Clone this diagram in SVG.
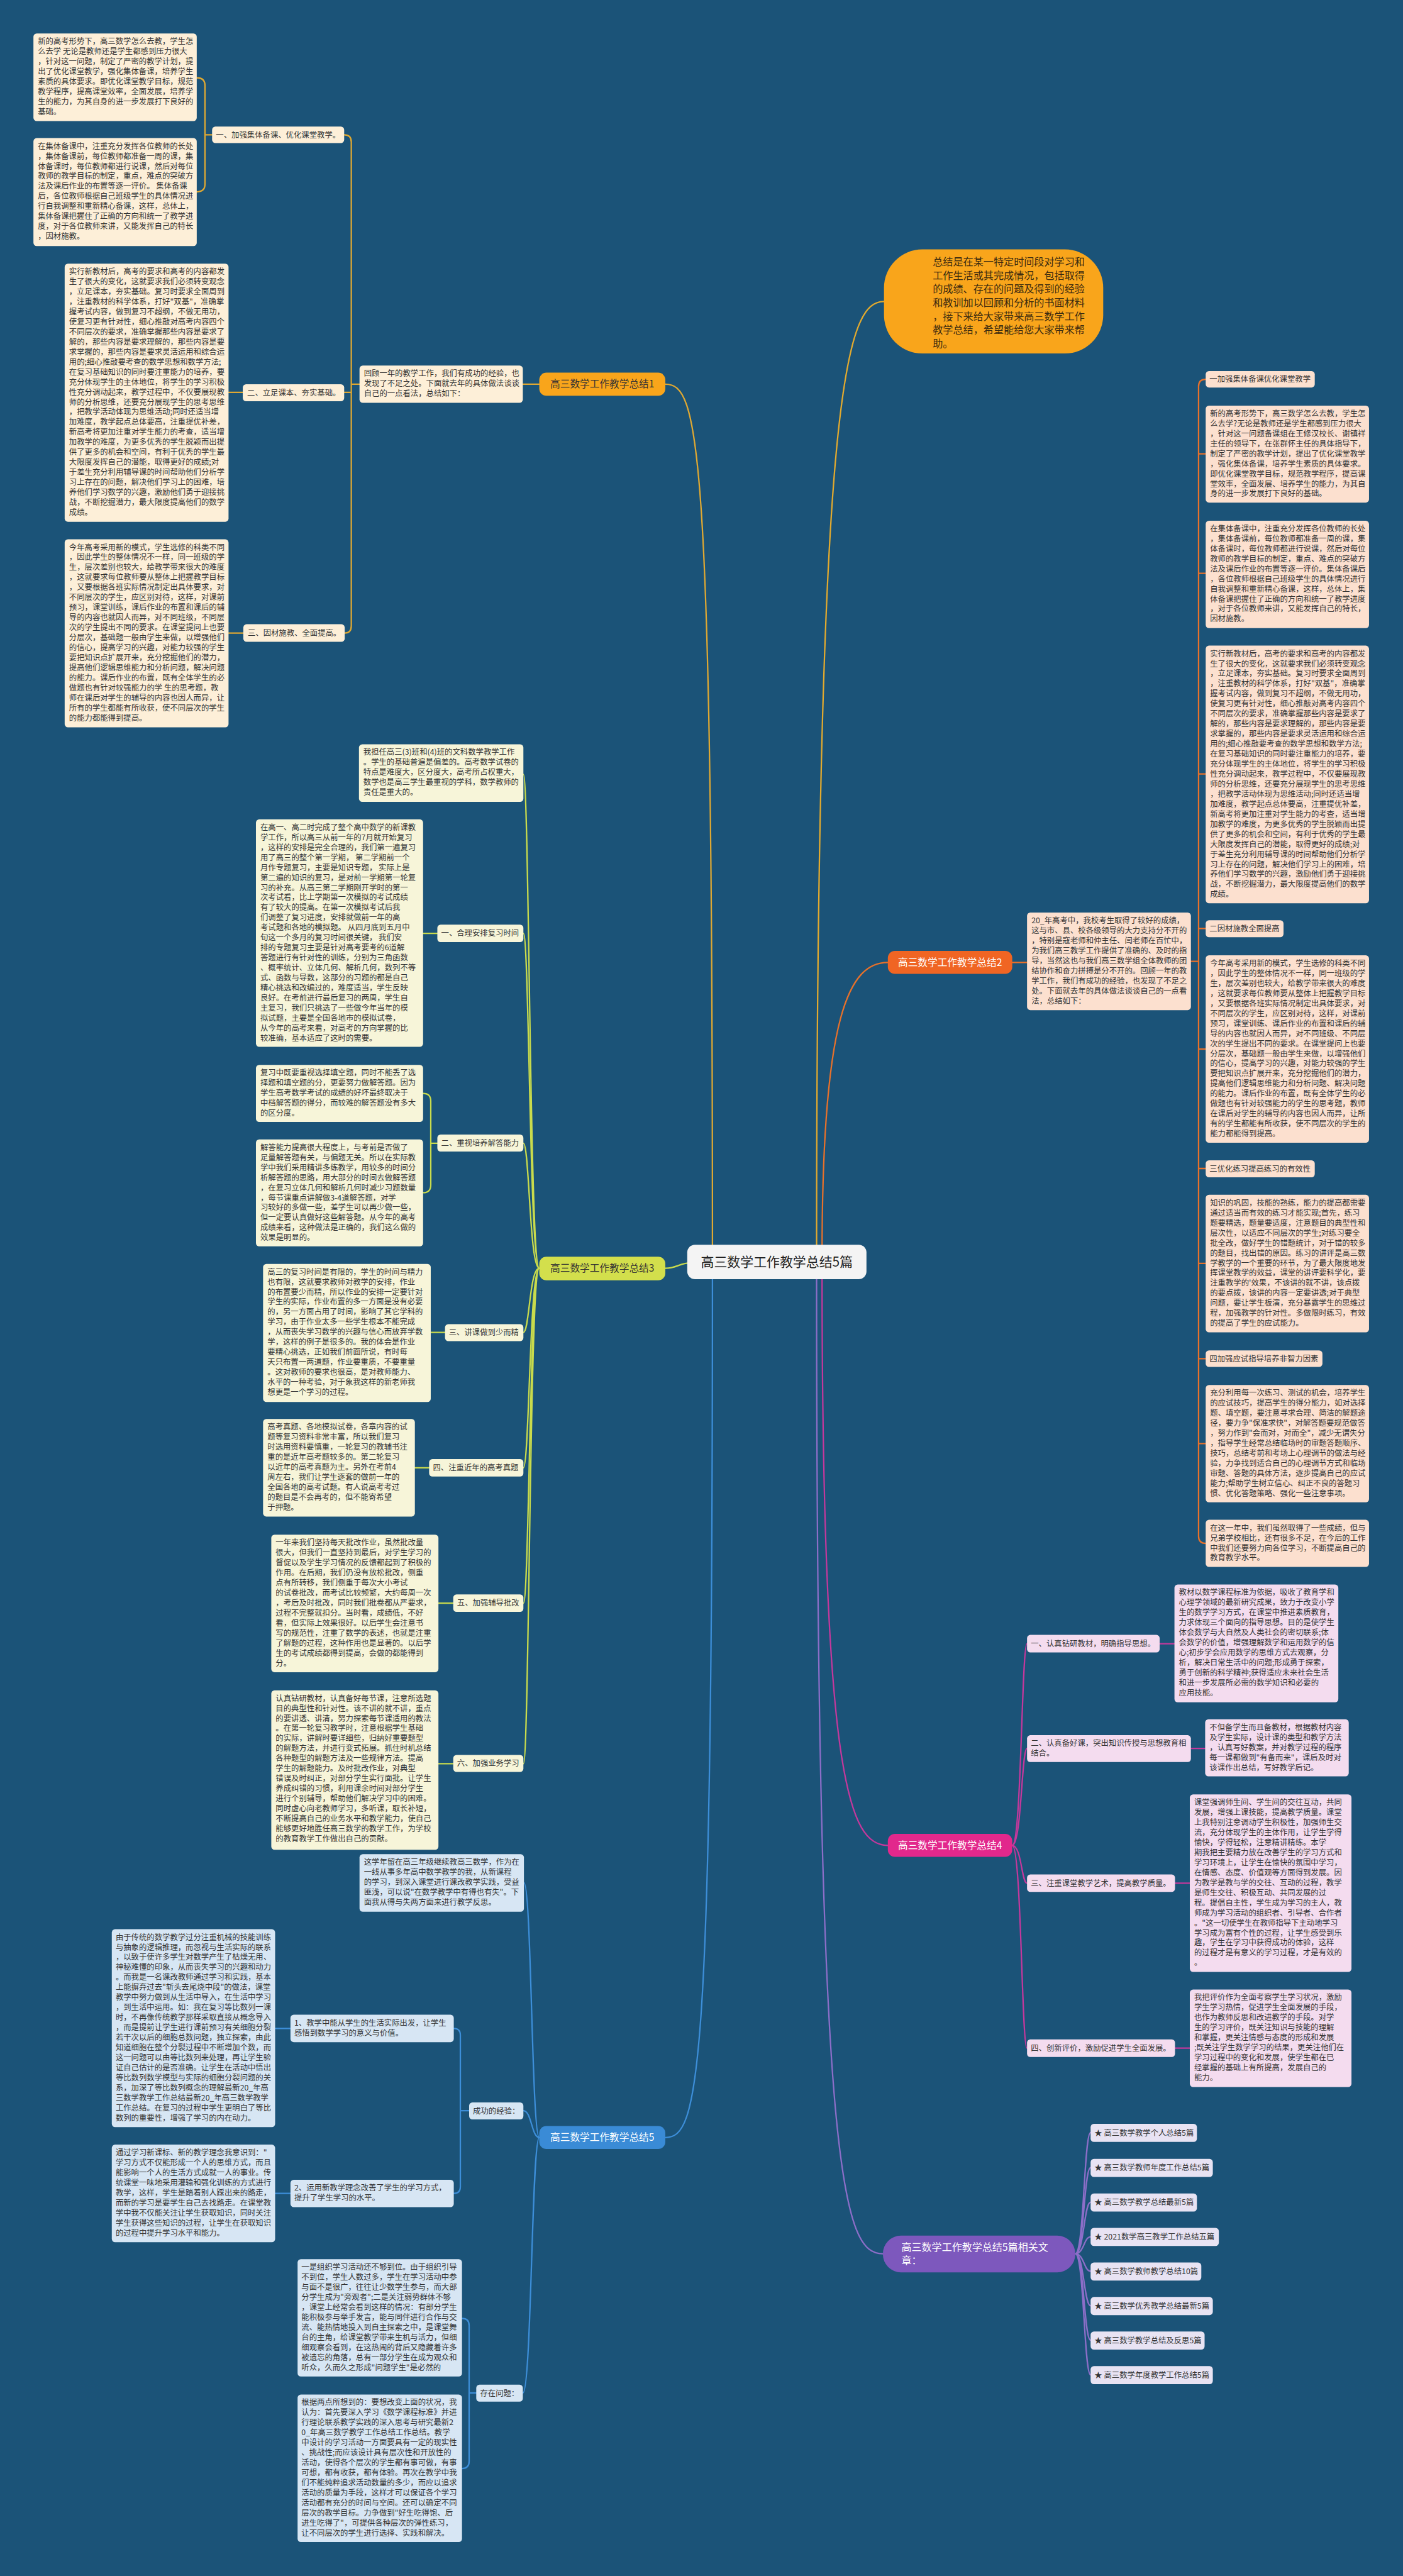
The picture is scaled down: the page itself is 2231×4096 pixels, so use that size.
<svg xmlns="http://www.w3.org/2000/svg" width="2231" height="4096" viewBox="0 0 2231 4096">
<style>
.t{font-family:"Noto Sans CJK SC","Noto Sans",sans-serif;font-size:14.2px;fill:#333}
.w{fill:#fff}
.L{font-size:18px}
.c{fill:none;stroke-width:2.6;stroke-linecap:round}
.k1{stroke:#dfa832}.k2{stroke:#e8712a}.k3{stroke:#c9db4c}.k4{stroke:#c4389c}.k5{stroke:#3d8ed8}.k6{stroke:#8c6ec8}.k0{stroke:#e3aa2e}
.f1{fill:#fdefd8}.f2{fill:#fce0cf}.f3{fill:#f7f5d9}.f4{fill:#f4dcef}.f5{fill:#d7e6f4}.f6{fill:#e8e3f3}
</style>
<rect x="0" y="0" width="2231" height="4096" fill="#1b5378"/>
<g transform="scale(0.87148)">
<g id="connectors">
<path class="c k1" d="M1214 701 C1275 701 1300 800 1300 2290"/>
<path class="c k0" d="M1613 550 C1545 550 1490 700 1490 2290"/>
<path class="c k2" d="M1620 1756 C1550 1756 1500 1850 1500 2290"/>
<path class="c k3" d="M1214 2314 C1235 2314 1240 2304 1262 2304"/>
<path class="c k4" d="M1620 3367 C1550 3367 1500 3250 1500 2320"/>
<path class="c k5" d="M1214 3900 C1275 3900 1300 3800 1300 2320"/>
<path class="c k6" d="M1611 4112 C1540 4112 1490 3990 1490 2320"/>
<path class="c k1" d="M984 701 L954 701 M656 701 L641 701 M628 246 Q641 246 641 259 L641 1142 Q641 1155 629 1155 M628 716 L641 716"/>
<path class="c k1" d="M387 246 L374 246 M359 142 Q374 142 374 156 L374 336 Q374 350 359 350"/>
<path class="c k1" d="M443 716 L417 716 M444 1155 L417 1155"/>
<path class="c k2" d="M1845 1756 L1874 1756 M2173 1754 L2187 1754"/>
<path class="c k2" d="M2200 692 Q2187 692 2187 705 L2187 2803 Q2187 2816 2200 2816 M2187 828 L2200 828 M2187 1046 L2200 1046 M2187 1412 L2200 1412 M2187 1694 L2200 1694 M2187 1914 L2200 1914 M2187 2132 L2200 2132 M2187 2305 L2200 2305 M2187 2479 L2200 2479 M2187 2634 L2200 2634"/>
<path class="c k3" d="M984 2314 C966 2314 966 1413 955 1413 M984 2314 C966 2314 966 1703 955 1703 M984 2314 C966 2314 966 2086 955 2086 M984 2314 C966 2314 966 2431 955 2431 M984 2314 C966 2314 966 2678 955 2678 M984 2314 C966 2314 966 2925 955 2925 M984 2314 C966 2314 966 3218 955 3218"/>
<path class="c k3" d="M798 1703 L772 1703 M798 2086 L786 2086 M772 1995 Q786 1995 786 2009 L786 2162 Q786 2176 772 2176 M812 2431 L786 2431 M783 2678 L757 2678 M827 2925 L800 2925 M827 3218 L800 3218"/>
<path class="c k4" d="M1847 3367 C1864 3367 1864 2999 1874 2999 M1847 3367 C1864 3367 1864 3190 1874 3190 M1847 3367 C1864 3367 1864 3436 1874 3436 M1847 3367 C1864 3367 1864 3737 1874 3737"/>
<path class="c k4" d="M2116 2999 L2143 2999 M2173 3190 L2199 3190 M2144 3436 L2171 3436 M2144 3737 L2171 3737"/>
<path class="c k5" d="M984 3900 C970 3900 970 3435 956 3435 M984 3900 C970 3900 970 3851 955 3851 M984 3900 C970 3900 970 4366 954 4366"/>
<path class="c k5" d="M856 3851 L840 3851 M828 3701 Q840 3701 840 3713 L840 3990 Q840 4002 828 4002 M530 3701 L502 3701 M530 4002 L502 4002"/>
<path class="c k5" d="M869 4366 L856 4366 M843 4230 Q856 4230 856 4243 L856 4491 Q856 4504 843 4504"/>
<path class="c k6" d="M1962 4112 C1978 4112 1978 3891 1990 3891 M1962 4112 C1978 4112 1978 3955 1990 3955 M1962 4112 C1978 4112 1978 4018 1990 4018 M1962 4112 C1978 4112 1978 4081 1990 4081 M1962 4112 C1978 4112 1978 4144 1990 4144 M1962 4112 C1978 4112 1978 4207 1990 4207 M1962 4112 C1978 4112 1978 4270 1990 4270 M1962 4112 C1978 4112 1978 4333 1990 4333"/>
</g>

<g id="center"><rect x="1254" y="2271" width="327" height="63" rx="14" fill="#f4f4f4"/><text class="t" x="1417.5" y="2311" text-anchor="middle" style="font-size:24px;fill:#222">高三数学工作教学总结5篇</text></g>

<g id="intro"><rect x="1613" y="455" width="400" height="190" rx="70" fill="#f9a51b"/>
<text class="t" x="1702" y="484.5" style="font-size:18.5px;fill:#3a2a10"><tspan x="1702" dy="0">总结是在某一特定时间段对学习和</tspan><tspan x="1702" dy="24.8">工作生活或其完成情况，包括取得</tspan><tspan x="1702" dy="24.8">的成绩、存在的问题及得到的经验</tspan><tspan x="1702" dy="24.8">和教训加以回顾和分析的书面材料</tspan><tspan x="1702" dy="24.8">，接下来给大家带来高三数学工作</tspan><tspan x="1702" dy="24.8">教学总结，希望能给您大家带来帮</tspan><tspan x="1702" dy="24.8">助。</tspan></text></g>

<g id="b1"><rect x="984" y="680" width="230" height="42" rx="13" fill="#f9a51b"/><text class="t L" x="1099" y="707" text-anchor="middle">高三数学工作教学总结1</text></g>
<g id="b1-mid"><rect class="f1" x="656" y="667" width="298" height="68" rx="6"/><text class="t" x="664" y="686.5"><tspan x="664" dy="0">回顾一年的教学工作，我们有成功的经验，也</tspan><tspan x="664" dy="18.3">发现了不足之处。下面就去年的具体做法谈谈</tspan><tspan x="664" dy="18.3">自己的一点看法，总结如下：</tspan></text></g>
<g id="b1-l1"><rect class="f1" x="387" y="231" width="241" height="30" rx="6"/><text class="t" x="394" y="251">一、加强集体备课、优化课堂教学。</text></g>
<g id="b1-l2"><rect class="f1" x="443" y="701" width="185" height="31" rx="6"/><text class="t" x="451" y="721.5">二、立足课本、夯实基础。</text></g>
<g id="b1-l3"><rect class="f1" x="444" y="1139" width="185" height="32" rx="6"/><text class="t" x="452" y="1160">三、因材施教、全面提高。</text></g>
<g id="b1-t1"><rect class="f1" x="61" y="61" width="298" height="160" rx="6"/><text class="t" x="69" y="80.5"><tspan x="69" dy="0">新的高考形势下，高三数学怎么去教，学生怎</tspan><tspan x="69" dy="18.3">么去学 无论是教师还是学生都感到压力很大</tspan><tspan x="69" dy="18.3">，针对这一问题，制定了严密的教学计划，提</tspan><tspan x="69" dy="18.3">出了优化课堂教学，强化集体备课，培养学生</tspan><tspan x="69" dy="18.3">素质的具体要求。即优化课堂教学目标，规范</tspan><tspan x="69" dy="18.3">教学程序，提高课堂效率，全面发展，培养学</tspan><tspan x="69" dy="18.3">生的能力，为其自身的进一步发展打下良好的</tspan><tspan x="69" dy="18.3">基础。</tspan></text></g>
<g id="b1-t2"><rect class="f1" x="61" y="252" width="298" height="197" rx="6"/><text class="t" x="69" y="271.5"><tspan x="69" dy="0">在集体备课中，注重充分发挥各位教师的长处</tspan><tspan x="69" dy="18.3">，集体备课前，每位教师都准备一周的课，集</tspan><tspan x="69" dy="18.3">体备课时，每位教师都进行说课，然后对每位</tspan><tspan x="69" dy="18.3">教师的教学目标的制定，重点，难点的突破方</tspan><tspan x="69" dy="18.3">法及课后作业的布置等逐一评价。 集体备课</tspan><tspan x="69" dy="18.3">后，各位教师根据自己班级学生的具体情况进</tspan><tspan x="69" dy="18.3">行自我调整和重新精心备课，这样，总体上，</tspan><tspan x="69" dy="18.3">集体备课把握住了正确的方向和统一了教学进</tspan><tspan x="69" dy="18.3">度，对于各位教师来讲，又能发挥自己的特长</tspan><tspan x="69" dy="18.3">，因材施教。</tspan></text></g>
<g id="b1-t3"><rect class="f1" x="118" y="481" width="299" height="471" rx="6"/><text class="t" x="126" y="500.5"><tspan x="126" dy="0">实行新教材后，高考的要求和高考的内容都发</tspan><tspan x="126" dy="18.3">生了很大的变化，这就要求我们必须转变观念</tspan><tspan x="126" dy="18.3">，立足课本，夯实基础。复习时要求全面周到</tspan><tspan x="126" dy="18.3">，注重教材的科学体系，打好"双基"，准确掌</tspan><tspan x="126" dy="18.3">握考试内容，做到复习不超纲，不做无用功，</tspan><tspan x="126" dy="18.3">使复习更有针对性，细心推敲对高考内容四个</tspan><tspan x="126" dy="18.3">不同层次的要求，准确掌握那些内容是要求了</tspan><tspan x="126" dy="18.3">解的，那些内容是要求理解的，那些内容是要</tspan><tspan x="126" dy="18.3">求掌握的，那些内容是要求灵活运用和综合运</tspan><tspan x="126" dy="18.3">用的;细心推敲要考查的数学思想和数学方法;</tspan><tspan x="126" dy="18.3">在复习基础知识的同时要注重能力的培养，要</tspan><tspan x="126" dy="18.3">充分体现学生的主体地位，将学生的学习积极</tspan><tspan x="126" dy="18.3">性充分调动起来，教学过程中，不仅要展现教</tspan><tspan x="126" dy="18.3">师的分析思维，还要充分展现学生的思考思维</tspan><tspan x="126" dy="18.3">，把教学活动体现为思维活动;同时还适当增</tspan><tspan x="126" dy="18.3">加难度，教学起点总体要高，注重提优补差，</tspan><tspan x="126" dy="18.3">新高考将更加注重对学生能力的考查，适当增</tspan><tspan x="126" dy="18.3">加教学的难度，为更多优秀的学生脱颖而出提</tspan><tspan x="126" dy="18.3">供了更多的机会和空间，有利于优秀的学生最</tspan><tspan x="126" dy="18.3">大限度发挥自己的潜能，取得更好的成绩;对</tspan><tspan x="126" dy="18.3">于差生充分利用辅导课的时间帮助他们分析学</tspan><tspan x="126" dy="18.3">习上存在的问题，解决他们学习上的困难，培</tspan><tspan x="126" dy="18.3">养他们学习数学的兴趣，激励他们勇于迎接挑</tspan><tspan x="126" dy="18.3">战，不断挖掘潜力，最大限度提高他们的数学</tspan><tspan x="126" dy="18.3">成绩。</tspan></text></g>
<g id="b1-t4"><rect class="f1" x="118" y="984" width="299" height="343" rx="6"/><text class="t" x="126" y="1003.5"><tspan x="126" dy="0">今年高考采用新的模式，学生选修的科类不同</tspan><tspan x="126" dy="18.3">，因此学生的整体情况不一样，同一班级的学</tspan><tspan x="126" dy="18.3">生，层次差别也较大，给教学带来很大的难度</tspan><tspan x="126" dy="18.3">，这就要求每位教师要从整体上把握教学目标</tspan><tspan x="126" dy="18.3">，又要根据各班实际情况制定出具体要求，对</tspan><tspan x="126" dy="18.3">不同层次的学生，应区别对待，这样，对课前</tspan><tspan x="126" dy="18.3">预习，课堂训练，课后作业的布置和课后的辅</tspan><tspan x="126" dy="18.3">导的内容也就因人而异，对不同班级，不同层</tspan><tspan x="126" dy="18.3">次的学生提出不同的要求。在课堂提问上也要</tspan><tspan x="126" dy="18.3">分层次，基础题一般由学生来做，以增强他们</tspan><tspan x="126" dy="18.3">的信心，提高学习的兴趣，对能力较强的学生</tspan><tspan x="126" dy="18.3">要把知识点扩展开来，充分挖掘他们的潜力，</tspan><tspan x="126" dy="18.3">提高他们逻辑思维能力和分析问题，解决问题</tspan><tspan x="126" dy="18.3">的能力。课后作业的布置，既有全体学生的必</tspan><tspan x="126" dy="18.3">做题也有针对较强能力的学 生的思考题，教</tspan><tspan x="126" dy="18.3">师在课后对学生的辅导的内容也因人而异，让</tspan><tspan x="126" dy="18.3">所有的学生都能有所收获，使不同层次的学生</tspan><tspan x="126" dy="18.3">的能力都能得到提高。</tspan></text></g>

<g id="b2"><rect x="1620" y="1735" width="227" height="42" rx="13" fill="#f06523"/><text class="t L w" x="1733.5" y="1762" text-anchor="middle">高三数学工作教学总结2</text></g>
<g id="b2-t0"><rect class="f2" x="1874" y="1665" width="299" height="178" rx="6"/><text class="t" x="1882" y="1684.5"><tspan x="1882" dy="0">20_年高考中，我校考生取得了较好的成绩，</tspan><tspan x="1882" dy="18.3">这与市、县、校各级领导的大力支持分不开的</tspan><tspan x="1882" dy="18.3">，特别是寇老师和仲主任、闫老师在百忙中，</tspan><tspan x="1882" dy="18.3">为我们高三教学工作提供了准确的、及时的指</tspan><tspan x="1882" dy="18.3">导，当然这也与我们高三数学组全体教师的团</tspan><tspan x="1882" dy="18.3">结协作和奋力拼搏是分不开的。回顾一年的教</tspan><tspan x="1882" dy="18.3">学工作，我们有成功的经验，也发现了不足之</tspan><tspan x="1882" dy="18.3">处。下面就去年的具体做法谈谈自己的一点看</tspan><tspan x="1882" dy="18.3">法，总结如下：</tspan></text></g>
<g id="b2-i1"><rect class="f2" x="2200" y="677" width="199" height="30" rx="6"/><text class="t" x="2207" y="697">一加强集体备课优化课堂教学</text></g>
<g id="b2-r1"><rect class="f2" x="2200" y="740" width="298" height="177" rx="6"/><text class="t" x="2208" y="759.5"><tspan x="2208" dy="0">新的高考形势下，高三数学怎么去教，学生怎</tspan><tspan x="2208" dy="18.3">么去学?无论是教师还是学生都感到压力很大</tspan><tspan x="2208" dy="18.3">，针对这一问题备课组在王修汉校长、谢镇祥</tspan><tspan x="2208" dy="18.3">主任的领导下，在张群怀主任的具体指导下，</tspan><tspan x="2208" dy="18.3">制定了严密的教学计划，提出了优化课堂教学</tspan><tspan x="2208" dy="18.3">，强化集体备课，培养学生素质的具体要求。</tspan><tspan x="2208" dy="18.3">即优化课堂教学目标，规范教学程序，提高课</tspan><tspan x="2208" dy="18.3">堂效率，全面发展、培养学生的能力，为其自</tspan><tspan x="2208" dy="18.3">身的进一步发展打下良好的基础。</tspan></text></g>
<g id="b2-r2"><rect class="f2" x="2200" y="950" width="298" height="196" rx="6"/><text class="t" x="2208" y="969.5"><tspan x="2208" dy="0">在集体备课中，注重充分发挥各位教师的长处</tspan><tspan x="2208" dy="18.3">，集体备课前，每位教师都准备一周的课，集</tspan><tspan x="2208" dy="18.3">体备课时，每位教师都进行说课，然后对每位</tspan><tspan x="2208" dy="18.3">教师的教学目标的制定，重点、难点的突破方</tspan><tspan x="2208" dy="18.3">法及课后作业的布置等逐一评价。集体备课后</tspan><tspan x="2208" dy="18.3">，各位教师根据自己班级学生的具体情况进行</tspan><tspan x="2208" dy="18.3">自我调整和重新精心备课，这样，总体上，集</tspan><tspan x="2208" dy="18.3">体备课把握住了正确的方向和统一了教学进度</tspan><tspan x="2208" dy="18.3">，对于各位教师来讲，又能发挥自己的特长，</tspan><tspan x="2208" dy="18.3">因材施教。</tspan></text></g>
<g id="b2-r3"><rect class="f2" x="2200" y="1178" width="298" height="470" rx="6"/><text class="t" x="2208" y="1197.5"><tspan x="2208" dy="0">实行新教材后，高考的要求和高考的内容都发</tspan><tspan x="2208" dy="18.3">生了很大的变化，这就要求我们必须转变观念</tspan><tspan x="2208" dy="18.3">，立足课本，夯实基础。复习时要求全面周到</tspan><tspan x="2208" dy="18.3">，注重教材的科学体系，打好"双基"，准确掌</tspan><tspan x="2208" dy="18.3">握考试内容，做到复习不超纲，不做无用功，</tspan><tspan x="2208" dy="18.3">使复习更有针对性，细心推敲对高考内容四个</tspan><tspan x="2208" dy="18.3">不同层次的要求，准确掌握那些内容是要求了</tspan><tspan x="2208" dy="18.3">解的，那些内容是要求理解的，那些内容是要</tspan><tspan x="2208" dy="18.3">求掌握的，那些内容是要求灵活运用和综合运</tspan><tspan x="2208" dy="18.3">用的;细心推敲要考查的数学思想和数学方法;</tspan><tspan x="2208" dy="18.3">在复习基础知识的同时要注重能力的培养，要</tspan><tspan x="2208" dy="18.3">充分体现学生的主体地位，将学生的学习积极</tspan><tspan x="2208" dy="18.3">性充分调动起来，教学过程中，不仅要展现教</tspan><tspan x="2208" dy="18.3">师的分析思维，还要充分展现学生的思考思维</tspan><tspan x="2208" dy="18.3">，把教学活动体现为思维活动;同时还适当增</tspan><tspan x="2208" dy="18.3">加难度，教学起点总体要高，注重提优补差，</tspan><tspan x="2208" dy="18.3">新高考将更加注重对学生能力的考查，适当增</tspan><tspan x="2208" dy="18.3">加教学的难度，为更多优秀的学生脱颖而出提</tspan><tspan x="2208" dy="18.3">供了更多的机会和空间，有利于优秀的学生最</tspan><tspan x="2208" dy="18.3">大限度发挥自己的潜能，取得更好的成绩;对</tspan><tspan x="2208" dy="18.3">于差生充分利用辅导课的时间帮助他们分析学</tspan><tspan x="2208" dy="18.3">习上存在的问题，解决他们学习上的困难，培</tspan><tspan x="2208" dy="18.3">养他们学习数学的兴趣，激励他们勇于迎接挑</tspan><tspan x="2208" dy="18.3">战，不断挖掘潜力，最大限度提高他们的数学</tspan><tspan x="2208" dy="18.3">成绩。</tspan></text></g>
<g id="b2-i2"><rect class="f2" x="2200" y="1679" width="142" height="31" rx="6"/><text class="t" x="2207" y="1699.5">二因材施教全面提高</text></g>
<g id="b2-r4"><rect class="f2" x="2200" y="1743" width="298" height="342" rx="6"/><text class="t" x="2208" y="1762.5"><tspan x="2208" dy="0">今年高考采用新的模式，学生选修的科类不同</tspan><tspan x="2208" dy="18.3">，因此学生的整体情况不一样，同一班级的学</tspan><tspan x="2208" dy="18.3">生，层次差别也较大，给教学带来很大的难度</tspan><tspan x="2208" dy="18.3">，这就要求每位教师要从整体上把握教学目标</tspan><tspan x="2208" dy="18.3">，又要根据各班实际情况制定出具体要求，对</tspan><tspan x="2208" dy="18.3">不同层次的学生，应区别对待，这样，对课前</tspan><tspan x="2208" dy="18.3">预习，课堂训练、课后作业的布置和课后的辅</tspan><tspan x="2208" dy="18.3">导的内容也就因人而异，对不同班级、不同层</tspan><tspan x="2208" dy="18.3">次的学生提出不同的要求。在课堂提问上也要</tspan><tspan x="2208" dy="18.3">分层次，基础题一般由学生来做，以增强他们</tspan><tspan x="2208" dy="18.3">的信心，提高学习的兴趣，对能力较强的学生</tspan><tspan x="2208" dy="18.3">要把知识点扩展开来，充分挖掘他们的潜力，</tspan><tspan x="2208" dy="18.3">提高他们逻辑思维能力和分析问题、解决问题</tspan><tspan x="2208" dy="18.3">的能力。课后作业的布置，既有全体学生的必</tspan><tspan x="2208" dy="18.3">做题也有针对较强能力的学生的思考题，教师</tspan><tspan x="2208" dy="18.3">在课后对学生的辅导的内容也因人而异，让所</tspan><tspan x="2208" dy="18.3">有的学生都能有所收获，使不同层次的学生的</tspan><tspan x="2208" dy="18.3">能力都能得到提高。</tspan></text></g>
<g id="b2-i3"><rect class="f2" x="2200" y="2117" width="199" height="31" rx="6"/><text class="t" x="2207" y="2137.5">三优化练习提高练习的有效性</text></g>
<g id="b2-r5"><rect class="f2" x="2200" y="2180" width="298" height="251" rx="6"/><text class="t" x="2208" y="2199.5"><tspan x="2208" dy="0">知识的巩固，技能的熟练，能力的提高都需要</tspan><tspan x="2208" dy="18.3">通过适当而有效的练习才能实现;首先，练习</tspan><tspan x="2208" dy="18.3">题要精选，题量要适度，注意题目的典型性和</tspan><tspan x="2208" dy="18.3">层次性，以适应不同层次的学生;对练习要全</tspan><tspan x="2208" dy="18.3">批全改，做好学生的错题统计，对于错的较多</tspan><tspan x="2208" dy="18.3">的题目，找出错的原因。练习的讲评是高三数</tspan><tspan x="2208" dy="18.3">学教学的一个重要的环节，为了最大限度地发</tspan><tspan x="2208" dy="18.3">挥课堂教学的效益，课堂的讲评要科学化，要</tspan><tspan x="2208" dy="18.3">注重教学的'效果，不该讲的就不讲，该点拨</tspan><tspan x="2208" dy="18.3">的要点拨，该讲的内容一定要讲透;对于典型</tspan><tspan x="2208" dy="18.3">问题，要让学生板演，充分暴露学生的思维过</tspan><tspan x="2208" dy="18.3">程，加强教学的针对性。多做限时练习，有效</tspan><tspan x="2208" dy="18.3">的提高了学生的应试能力。</tspan></text></g>
<g id="b2-i4"><rect class="f2" x="2200" y="2464" width="213" height="30" rx="6"/><text class="t" x="2207" y="2484">四加强应试指导培养非智力因素</text></g>
<g id="b2-r6"><rect class="f2" x="2200" y="2527" width="298" height="214" rx="6"/><text class="t" x="2208" y="2546.5"><tspan x="2208" dy="0">充分利用每一次练习、测试的机会，培养学生</tspan><tspan x="2208" dy="18.3">的应试技巧，提高学生的得分能力，如对选择</tspan><tspan x="2208" dy="18.3">题、填空题，要注意寻求合理、简洁的解题途</tspan><tspan x="2208" dy="18.3">径，要力争"保准求快"，对解答题要规范做答</tspan><tspan x="2208" dy="18.3">，努力作到"会而对，对而全"，减少无谓失分</tspan><tspan x="2208" dy="18.3">，指导学生经常总结临场时的审题答题顺序、</tspan><tspan x="2208" dy="18.3">技巧，总结考前和考场上心理调节的做法与经</tspan><tspan x="2208" dy="18.3">验，力争找到适合自己的心理调节方式和临场</tspan><tspan x="2208" dy="18.3">审题、答题的具体方法，逐步提高自己的应试</tspan><tspan x="2208" dy="18.3">能力;帮助学生树立信心、纠正不良的答题习</tspan><tspan x="2208" dy="18.3">惯、优化答题策略、强化一些注意事项。</tspan></text></g>
<g id="b2-r7"><rect class="f2" x="2200" y="2773" width="298" height="86" rx="6"/><text class="t" x="2208" y="2792.5"><tspan x="2208" dy="0">在这一年中，我们虽然取得了一些成绩，但与</tspan><tspan x="2208" dy="18.3">兄弟学校相比，还有很多不足，在今后的工作</tspan><tspan x="2208" dy="18.3">中我们还要努力向各位学习，不断提高自己的</tspan><tspan x="2208" dy="18.3">教育教学水平。</tspan></text></g>

<g id="b3"><rect x="984" y="2293" width="230" height="43" rx="13" fill="#d3df4c"/><text class="t L" x="1099" y="2320.5" text-anchor="middle">高三数学工作教学总结3</text></g>
<g id="b3-top"><rect class="f3" x="655" y="1358" width="300" height="105" rx="6"/><text class="t" x="663" y="1377.5"><tspan x="663" dy="0">我担任高三(3)班和(4)班的文科数学教学工作</tspan><tspan x="663" dy="18.3">。学生的基础普遍是偏差的。高考数学试卷的</tspan><tspan x="663" dy="18.3">特点是难度大，区分度大，高考所占权重大，</tspan><tspan x="663" dy="18.3">数学也是高三学生最重视的学科，数学教师的</tspan><tspan x="663" dy="18.3">责任是重大的。</tspan></text></g>
<g id="b3-l1"><rect class="f3" x="798" y="1687" width="157" height="32" rx="6"/><text class="t" x="805" y="1708">一、合理安排复习时间</text></g>
<g id="b3-l2"><rect class="f3" x="798" y="2070" width="157" height="31" rx="6"/><text class="t" x="805" y="2090.5">二、重视培养解答能力</text></g>
<g id="b3-l3"><rect class="f3" x="812" y="2416" width="143" height="31" rx="6"/><text class="t" x="819" y="2436.5">三、讲课做到少而精</text></g>
<g id="b3-l4"><rect class="f3" x="783" y="2662" width="172" height="32" rx="6"/><text class="t" x="790" y="2683">四、注重近年的高考真题</text></g>
<g id="b3-l5"><rect class="f3" x="827" y="2909" width="128" height="32" rx="6"/><text class="t" x="834" y="2930">五、加强辅导批改</text></g>
<g id="b3-l6"><rect class="f3" x="827" y="3202" width="128" height="31" rx="6"/><text class="t" x="834" y="3222.5">六、加强业务学习</text></g>
<g id="b3-a"><rect class="f3" x="467" y="1495" width="305" height="415" rx="6"/><text class="t" x="475" y="1514.5"><tspan x="475" dy="0">在高一、高二时完成了整个高中数学的新课教</tspan><tspan x="475" dy="18.3">学工作，所以高三从前一年的7月就开始复习</tspan><tspan x="475" dy="18.3">，这样的安排是完全合理的，我们第一遍复习</tspan><tspan x="475" dy="18.3">用了高三的整个第一学期， 第二学期前一个</tspan><tspan x="475" dy="18.3">月作专题复习，主要是知识专题， 实际上是</tspan><tspan x="475" dy="18.3">第二遍的知识的复习，是对前一学期第一轮复</tspan><tspan x="475" dy="18.3">习的补充。从高三第二学期刚开学时的第一</tspan><tspan x="475" dy="18.3">次考试看，比上学期第一次模拟的考试成绩</tspan><tspan x="475" dy="18.3">有了较大的提高。在第一次模拟考试后我</tspan><tspan x="475" dy="18.3">们调整了复习进度，安排就做前一年的高</tspan><tspan x="475" dy="18.3">考试题和各地的模拟题。 从四月底到五月中</tspan><tspan x="475" dy="18.3">旬这一个多月的复习时间很关键， 我们安</tspan><tspan x="475" dy="18.3">排的专题复习主要是针对高考要考的6道解</tspan><tspan x="475" dy="18.3">答题进行有针对性的训练，分别为三角函数</tspan><tspan x="475" dy="18.3">、概率统计、立体几何、解析几何，数列不等</tspan><tspan x="475" dy="18.3">式、函数与导数，这部分的习题的都是自己</tspan><tspan x="475" dy="18.3">精心挑选和改编过的，难度适当，学生反映</tspan><tspan x="475" dy="18.3">良好。在考前进行最后复习的两周，学生自</tspan><tspan x="475" dy="18.3">主复习，我们只挑选了一些做今年当年的模</tspan><tspan x="475" dy="18.3">拟试题，主要是全国各地市的模拟试卷，</tspan><tspan x="475" dy="18.3">从今年的高考来看，对高考的方向掌握的比</tspan><tspan x="475" dy="18.3">较准确，基本适应了这时的需要。</tspan></text></g>
<g id="b3-b1"><rect class="f3" x="467" y="1943" width="305" height="104" rx="6"/><text class="t" x="475" y="1962.5"><tspan x="475" dy="0">复习中既要重视选择填空题，同时不能丢了选</tspan><tspan x="475" dy="18.3">择题和填空题的分，更要努力做解答题。因为</tspan><tspan x="475" dy="18.3">学生高考数学考试的成绩的好坏最终取决于</tspan><tspan x="475" dy="18.3">中档解答题的得分，而较难的解答题没有多大</tspan><tspan x="475" dy="18.3">的区分度。</tspan></text></g>
<g id="b3-b2"><rect class="f3" x="467" y="2079" width="305" height="195" rx="6"/><text class="t" x="475" y="2098.5"><tspan x="475" dy="0">解答能力提高很大程度上，与考前是否做了</tspan><tspan x="475" dy="18.3">足量解答题有关，与偏题无关。所以在实际教</tspan><tspan x="475" dy="18.3">学中我们采用精讲多练教学，用较多的时间分</tspan><tspan x="475" dy="18.3">析解答题的思路，用大部分的时间去做解答题</tspan><tspan x="475" dy="18.3">，在复习立体几何和解析几何时减少习题数量</tspan><tspan x="475" dy="18.3">，每节课重点讲解做3-4道解答题，对学</tspan><tspan x="475" dy="18.3">习较好的多做一些，差学生可以再少做一些，</tspan><tspan x="475" dy="18.3">但一定要认真做好这些解答题。从今年的高考</tspan><tspan x="475" dy="18.3">成绩来看，这种做法是正确的，我们这么做的</tspan><tspan x="475" dy="18.3">效果是明显的。</tspan></text></g>
<g id="b3-c"><rect class="f3" x="480" y="2306" width="306" height="252" rx="6"/><text class="t" x="488" y="2325.5"><tspan x="488" dy="0">高三的复习时间是有限的，学生的时间与精力</tspan><tspan x="488" dy="18.3">也有限，这就要求教师对教学的安排，作业</tspan><tspan x="488" dy="18.3">的布置要少而精，所以作业的安排一定要针对</tspan><tspan x="488" dy="18.3">学生的实际，作业布置的多一方面是没有必要</tspan><tspan x="488" dy="18.3">的，另一方面占用了时间，影响了其它学科的</tspan><tspan x="488" dy="18.3">学习，由于作业太多一些学生根本不能完成</tspan><tspan x="488" dy="18.3">，从而丧失学习数学的兴趣与信心而放弃学数</tspan><tspan x="488" dy="18.3">学，这样的例子是很多的。我的体会是作业</tspan><tspan x="488" dy="18.3">要精心挑选，正如我们前面所说，有时每</tspan><tspan x="488" dy="18.3">天只布置一两道题，作业要重质，不要重量</tspan><tspan x="488" dy="18.3">。这对教师的要求也很高，是对教师能力、</tspan><tspan x="488" dy="18.3">水平的一种考验，对于象我这样的新老师我</tspan><tspan x="488" dy="18.3">想更是一个学习的过程。</tspan></text></g>
<g id="b3-d"><rect class="f3" x="480" y="2589" width="277" height="178" rx="6"/><text class="t" x="488" y="2608.5"><tspan x="488" dy="0">高考真题、各地模拟试卷，各章内容的试</tspan><tspan x="488" dy="18.3">题等复习资料非常丰富，所以我们复习</tspan><tspan x="488" dy="18.3">时选用资料要慎重，一轮复习的教辅书注</tspan><tspan x="488" dy="18.3">重的是近年高考题较多的。第二轮复习</tspan><tspan x="488" dy="18.3">以近年的高考真题为主。另外在考前4</tspan><tspan x="488" dy="18.3">周左右，我们让学生逐套的做前一年的</tspan><tspan x="488" dy="18.3">全国各地的高考试题。有人说高考考过</tspan><tspan x="488" dy="18.3">的题目是不会再考的，但不能寄希望</tspan><tspan x="488" dy="18.3">于押题。</tspan></text></g>
<g id="b3-e"><rect class="f3" x="495" y="2800" width="305" height="251" rx="6"/><text class="t" x="503" y="2819.5"><tspan x="503" dy="0">一年来我们坚持每天批改作业，虽然批改量</tspan><tspan x="503" dy="18.3">很大，但我们一直坚持到最后，对学生学习的</tspan><tspan x="503" dy="18.3">督促以及学生学习情况的反馈都起到了积极的</tspan><tspan x="503" dy="18.3">作用。在后期，我们仍没有放松批改，侧重</tspan><tspan x="503" dy="18.3">点有所转移，我们侧重于每次大小考试</tspan><tspan x="503" dy="18.3">的试卷批改，而考试比较频繁，大约每周一次</tspan><tspan x="503" dy="18.3">，考后及时批改，同时我们批卷都从严要求，</tspan><tspan x="503" dy="18.3">过程不完整就扣分。当时看，成绩低，不好</tspan><tspan x="503" dy="18.3">看，但实际上效果很好。以后学生会注意书</tspan><tspan x="503" dy="18.3">写的规范性，注重了数学的表述，也就是注重</tspan><tspan x="503" dy="18.3">了解题的过程，这种作用也是显著的。以后学</tspan><tspan x="503" dy="18.3">生的考试成绩都得到提高，会做的都能得到</tspan><tspan x="503" dy="18.3">分。</tspan></text></g>
<g id="b3-f"><rect class="f3" x="495" y="3084" width="305" height="291" rx="6"/><text class="t" x="503" y="3103.5"><tspan x="503" dy="0">认真钻研教材，认真备好每节课，注意所选题</tspan><tspan x="503" dy="18.3">目的典型性和针对性。该不讲的就不讲，重点</tspan><tspan x="503" dy="18.3">的要讲透、讲清，努力探索每节课适用的教法</tspan><tspan x="503" dy="18.3">。在第一轮复习教学时，注意根据学生基础</tspan><tspan x="503" dy="18.3">的实际，讲解时要详细些，归纳好重要题型</tspan><tspan x="503" dy="18.3">的解题方法，并进行变式拓展。抓住时机总结</tspan><tspan x="503" dy="18.3">各种题型的解题方法及一些规律方法。提高</tspan><tspan x="503" dy="18.3">学生的解题能力。及时批改作业，对典型</tspan><tspan x="503" dy="18.3">错误及时纠正，对部分学生实行面批。让学生</tspan><tspan x="503" dy="18.3">养成纠错的习惯，利用课余时间对部分学生</tspan><tspan x="503" dy="18.3">进行个别辅导，帮助他们解决学习中的困难。</tspan><tspan x="503" dy="18.3">同时虚心向老教师学习，多听课，取长补短，</tspan><tspan x="503" dy="18.3">不断提高自己的业务水平和教学能力，使自己</tspan><tspan x="503" dy="18.3">能够更好地胜任高三数学的教学工作，为学校</tspan><tspan x="503" dy="18.3">的教育教学工作做出自己的贡献。</tspan></text></g>

<g id="b4"><rect x="1620" y="3346" width="227" height="42" rx="13" fill="#e2288c"/><text class="t L w" x="1733.5" y="3373" text-anchor="middle">高三数学工作教学总结4</text></g>
<g id="b4-i1"><rect class="f4" x="1874" y="2983" width="242" height="32" rx="6"/><text class="t" x="1881" y="3004">一、认真钻研教材，明确指导思想。</text></g>
<g id="b4-i2"><rect class="f4" x="1874" y="3166" width="299" height="49" rx="6"/><text class="t" x="1881" y="3185.5"><tspan x="1881" dy="0">二、认真备好课，突出知识传授与思想教育相</tspan><tspan x="1881" dy="18.3">结合。</tspan></text></g>
<g id="b4-i3"><rect class="f4" x="1874" y="3420" width="270" height="32" rx="6"/><text class="t" x="1881" y="3441">三、注重课堂教学艺术，提高教学质量。</text></g>
<g id="b4-i4"><rect class="f4" x="1874" y="3721" width="270" height="32" rx="6"/><text class="t" x="1881" y="3742">四、创新评价，激励促进学生全面发展。</text></g>
<g id="b4-k1"><rect class="f4" x="2143" y="2891" width="299" height="215" rx="6"/><text class="t" x="2151" y="2910.5"><tspan x="2151" dy="0">教材以数学课程标准为依据，吸收了教育学和</tspan><tspan x="2151" dy="18.3">心理学领域的最新研究成果，致力于改变小学</tspan><tspan x="2151" dy="18.3">生的数学学习方式，在课堂中推进素质教育，</tspan><tspan x="2151" dy="18.3">力求体现三个面向的指导思想。目的是使学生</tspan><tspan x="2151" dy="18.3">体会数学与大自然及人类社会的密切联系;体</tspan><tspan x="2151" dy="18.3">会数学的价值，增强理解数学和运用数学的信</tspan><tspan x="2151" dy="18.3">心;初步学会应用数学的思维方式去观察，分</tspan><tspan x="2151" dy="18.3">析，解决日常生活中的问题;形成勇于探索，</tspan><tspan x="2151" dy="18.3">勇于创新的科学精神;获得适应未来社会生活</tspan><tspan x="2151" dy="18.3">和进一步发展所必需的数学知识和必要的</tspan><tspan x="2151" dy="18.3">应用技能。</tspan></text></g>
<g id="b4-k2"><rect class="f4" x="2199" y="3137" width="262" height="104" rx="6"/><text class="t" x="2207" y="3156.5"><tspan x="2207" dy="0">不但备学生而且备教材，根据教材内容</tspan><tspan x="2207" dy="18.3">及学生实际，设计课的类型和教学方法</tspan><tspan x="2207" dy="18.3">，认真写好教案，并对教学过程的程序</tspan><tspan x="2207" dy="18.3">每一课都做到"有备而来"，课后及时对</tspan><tspan x="2207" dy="18.3">该课作出总结，写好教学后记。</tspan></text></g>
<g id="b4-k3"><rect class="f4" x="2171" y="3274" width="295" height="324" rx="6"/><text class="t" x="2179" y="3293.5"><tspan x="2179" dy="0">课堂强调师生间、学生间的交往互动，共同</tspan><tspan x="2179" dy="18.3">发展，增强上课技能，提高教学质量。课堂</tspan><tspan x="2179" dy="18.3">上我特别注意调动学生积极性，加强师生交</tspan><tspan x="2179" dy="18.3">流，充分体现学生的主体作用，让学生学得</tspan><tspan x="2179" dy="18.3">愉快，学得轻松，注意精讲精练。本学</tspan><tspan x="2179" dy="18.3">期我把主要精力放在改善学生的学习方式和</tspan><tspan x="2179" dy="18.3">学习环境上，让学生在愉快的氛围中学习，</tspan><tspan x="2179" dy="18.3">在情感、态度、价值观等方面得到发展。因</tspan><tspan x="2179" dy="18.3">为教学是教与学的交往、互动的过程，教学</tspan><tspan x="2179" dy="18.3">是师生交往、积极互动、共同发展的过</tspan><tspan x="2179" dy="18.3">程。提倡自主性，学生成为学习的主人，教</tspan><tspan x="2179" dy="18.3">师成为学习活动的组织者、引导者、合作者</tspan><tspan x="2179" dy="18.3">。"这一切使学生在教师指导下主动地学习</tspan><tspan x="2179" dy="18.3">学习成为富有个性的过程，让学生感受到乐</tspan><tspan x="2179" dy="18.3">趣，学生在学习中获得成功的体验，这样</tspan><tspan x="2179" dy="18.3">的过程才是有意义的学习过程，才是有效的</tspan><tspan x="2179" dy="18.3">。</tspan></text></g>
<g id="b4-k4"><rect class="f4" x="2171" y="3630" width="295" height="178" rx="6"/><text class="t" x="2179" y="3649.5"><tspan x="2179" dy="0">我把评价作为全面考察学生学习状况，激励</tspan><tspan x="2179" dy="18.3">学生学习热情，促进学生全面发展的手段，</tspan><tspan x="2179" dy="18.3">也作为教师反思和改进教学的手段。对学</tspan><tspan x="2179" dy="18.3">生的学习评价，既关注知识与技能的理解</tspan><tspan x="2179" dy="18.3">和掌握，更关注情感与态度的形成和发展</tspan><tspan x="2179" dy="18.3">;既关注学生数学学习的结果，更关注他们在</tspan><tspan x="2179" dy="18.3">学习过程中的变化和发展，使学生都在已</tspan><tspan x="2179" dy="18.3">经掌握的基础上有所提高，发展自己的</tspan><tspan x="2179" dy="18.3">能力。</tspan></text></g>

<g id="b5"><rect x="984" y="3879" width="230" height="42" rx="13" fill="#3a8bd6"/><text class="t L w" x="1099" y="3906" text-anchor="middle">高三数学工作教学总结5</text></g>
<g id="b5-top"><rect class="f5" x="656" y="3383" width="300" height="105" rx="6"/><text class="t" x="664" y="3402.5"><tspan x="664" dy="0">这学年留在高三年级继续教高三数学，作为在</tspan><tspan x="664" dy="18.3">一线从事多年高中数学教学的我，从新课程</tspan><tspan x="664" dy="18.3">的学习，到深入课堂进行课改教学实践，受益</tspan><tspan x="664" dy="18.3">匪浅，可以说"在数学教学中有得也有失"。下</tspan><tspan x="664" dy="18.3">面我从得与失两方面来进行教学反思。</tspan></text></g>
<g id="b5-s"><rect class="f5" x="856" y="3836" width="99" height="31" rx="6"/><text class="t" x="863" y="3856.5">成功的经验：</text></g>
<g id="b5-p"><rect class="f5" x="869" y="4351" width="85" height="31" rx="6"/><text class="t" x="876" y="4371.5">存在问题：</text></g>
<g id="b5-i1"><rect class="f5" x="530" y="3676" width="298" height="50" rx="6"/><text class="t" x="537" y="3695.5"><tspan x="537" dy="0">1、教学中能从学生的生活实际出发，让学生</tspan><tspan x="537" dy="18.3">感悟到数学学习的意义与价值。</tspan></text></g>
<g id="b5-i2"><rect class="f5" x="530" y="3977" width="298" height="50" rx="6"/><text class="t" x="537" y="3996.5"><tspan x="537" dy="0">2、运用新教学理念改善了学生的学习方式，</tspan><tspan x="537" dy="18.3">提升了学生学习的水平。</tspan></text></g>
<g id="b5-t1"><rect class="f5" x="204" y="3520" width="298" height="361" rx="6"/><text class="t" x="211" y="3539.5"><tspan x="211" dy="0">由于传统的数学教学过分注重机械的技能训练</tspan><tspan x="211" dy="18.3">与抽象的逻辑推理，而忽视与生活实际的联系</tspan><tspan x="211" dy="18.3">，以致于使许多学生对数学产生了枯燥无用、</tspan><tspan x="211" dy="18.3">神秘难懂的印象，从而丧失学习的兴趣和动力</tspan><tspan x="211" dy="18.3">。而我是一名课改教师通过学习和实践，基本</tspan><tspan x="211" dy="18.3">上能摒弃过去"斩头去尾烧中段"的做法，课堂</tspan><tspan x="211" dy="18.3">教学中努力做到从生活中导入，在生活中学习</tspan><tspan x="211" dy="18.3">，到生活中运用。如：我在复习等比数列一课</tspan><tspan x="211" dy="18.3">时，不再像传统教学那样采取直接从概念导入</tspan><tspan x="211" dy="18.3">，而是提前让学生进行课前预习有关细胞分裂</tspan><tspan x="211" dy="18.3">若干次以后的细胞总数问题，独立探索，由此</tspan><tspan x="211" dy="18.3">知道细胞在整个分裂过程中不断增加个数，而</tspan><tspan x="211" dy="18.3">这一问题可以由等比数列来处理，再让学生验</tspan><tspan x="211" dy="18.3">证自己估计的是否准确。让学生在活动中悟出</tspan><tspan x="211" dy="18.3">等比数列数学模型与实际的细胞分裂问题的关</tspan><tspan x="211" dy="18.3">系，加深了等比数列概念的理解最新20_年高</tspan><tspan x="211" dy="18.3">三数学教学工作总结最新20_年高三数学教学</tspan><tspan x="211" dy="18.3">工作总结。在复习的过程中学生更明白了等比</tspan><tspan x="211" dy="18.3">数列的重要性，增强了学习的内在动力。</tspan></text></g>
<g id="b5-t2"><rect class="f5" x="204" y="3913" width="298" height="178" rx="6"/><text class="t" x="211" y="3932.5"><tspan x="211" dy="0">通过学习新课标、新的教学理念我意识到："</tspan><tspan x="211" dy="18.3">学习方式不仅能形成一个人的思维方式，而且</tspan><tspan x="211" dy="18.3">能影响一个人的生活方式成就一人的事业。传</tspan><tspan x="211" dy="18.3">统课堂一味地采用灌输和强化训练的方式进行</tspan><tspan x="211" dy="18.3">教学，这样，学生是踏着别人踩出来的路走，</tspan><tspan x="211" dy="18.3">而新的学习是要学生自己去找路走。在课堂教</tspan><tspan x="211" dy="18.3">学中我不仅能关注让学生获取知识，同时关注</tspan><tspan x="211" dy="18.3">学生获得这些知识的过程，让学生在获取知识</tspan><tspan x="211" dy="18.3">的过程中提升学习水平和能力。</tspan></text></g>
<g id="b5-t3"><rect class="f5" x="543" y="4122" width="300" height="214" rx="6"/><text class="t" x="550" y="4141.5"><tspan x="550" dy="0">一是组织学习活动还不够到位。由于组织引导</tspan><tspan x="550" dy="18.3">不到位，学生人数过多，学生在学习活动中参</tspan><tspan x="550" dy="18.3">与面不是很广，往往让少数学生参与，而大部</tspan><tspan x="550" dy="18.3">分学生成为"旁观者";二是关注弱势群体不够</tspan><tspan x="550" dy="18.3">，课堂上经常会看到这样的情况：有部分学生</tspan><tspan x="550" dy="18.3">能积极参与举手发言，能与同伴进行合作与交</tspan><tspan x="550" dy="18.3">流、能热情地投入到自主探索之中，是课堂舞</tspan><tspan x="550" dy="18.3">台的主角，给课堂教学带来生机与活力，但细</tspan><tspan x="550" dy="18.3">细观察会看到，在这热闹的背后又隐藏着许多</tspan><tspan x="550" dy="18.3">被遗忘的角落，总有一部分学生在成为观众和</tspan><tspan x="550" dy="18.3">听众，久而久之形成"问题学生"是必然的</tspan></text></g>
<g id="b5-t4"><rect class="f5" x="543" y="4369" width="300" height="269" rx="6"/><text class="t" x="550" y="4388.5"><tspan x="550" dy="0">根据两点所想到的：要想改变上面的状况，我</tspan><tspan x="550" dy="18.3">认为：首先要深入学习《数学课程标准》并进</tspan><tspan x="550" dy="18.3">行理论联系教学实践的深入思考与研究最新2</tspan><tspan x="550" dy="18.3">0_年高三数学教学工作总结工作总结。教学</tspan><tspan x="550" dy="18.3">中设计的学习活动一方面要具有一定的现实性</tspan><tspan x="550" dy="18.3">、挑战性;而应该设计具有层次性和开放性的</tspan><tspan x="550" dy="18.3">活动，使得各个层次的学生都有事可做，有事</tspan><tspan x="550" dy="18.3">可想，都有收获，都有体验。再次在教学中我</tspan><tspan x="550" dy="18.3">们不能纯粹追求活动数量的多少，而应以追求</tspan><tspan x="550" dy="18.3">活动的质量为手段，这样才可以保证各个学习</tspan><tspan x="550" dy="18.3">活动都有充分的时间与空间。还可以确定不同</tspan><tspan x="550" dy="18.3">层次的教学目标。力争做到"好生吃得饱、后</tspan><tspan x="550" dy="18.3">进生吃得了"，可提供各种层次的弹性练习，</tspan><tspan x="550" dy="18.3">让不同层次的学生进行选择、实践和解决。</tspan></text></g>

<g id="rel"><rect x="1611" y="4079" width="351" height="67" rx="33" fill="#7d58bd"/><text class="t w" x="1645" y="4107" style="font-size:18.4px"><tspan x="1645" dy="0">高三数学工作教学总结5篇相关文</tspan><tspan x="1645" dy="24">章：</tspan></text></g>
<g id="rel1"><rect class="f6" x="1990" y="3875" width="194" height="33" rx="6"/><text class="t" x="1997" y="3896.5">★ 高三数学教学个人总结5篇</text></g>
<g id="rel2"><rect class="f6" x="1990" y="3939" width="223" height="33" rx="6"/><text class="t" x="1997" y="3960.5">★ 高三数学教师年度工作总结5篇</text></g>
<g id="rel3"><rect class="f6" x="1990" y="4002" width="194" height="33" rx="6"/><text class="t" x="1997" y="4023.5">★ 高三数学教学总结最新5篇</text></g>
<g id="rel4"><rect class="f6" x="1990" y="4065" width="234" height="33" rx="6"/><text class="t" x="1997" y="4086.5">★ 2021数学高三教学工作总结五篇</text></g>
<g id="rel5"><rect class="f6" x="1990" y="4128" width="202" height="33" rx="6"/><text class="t" x="1997" y="4149.5">★ 高三数学教师教学总结10篇</text></g>
<g id="rel6"><rect class="f6" x="1990" y="4191" width="223" height="33" rx="6"/><text class="t" x="1997" y="4212.5">★ 高三数学优秀教学总结最新5篇</text></g>
<g id="rel7"><rect class="f6" x="1990" y="4254" width="208" height="33" rx="6"/><text class="t" x="1997" y="4275.5">★ 高三数学教学总结及反思5篇</text></g>
<g id="rel8"><rect class="f6" x="1990" y="4317" width="223" height="33" rx="6"/><text class="t" x="1997" y="4338.5">★ 高三数学年度教学工作总结5篇</text></g>
</g>
</svg>
